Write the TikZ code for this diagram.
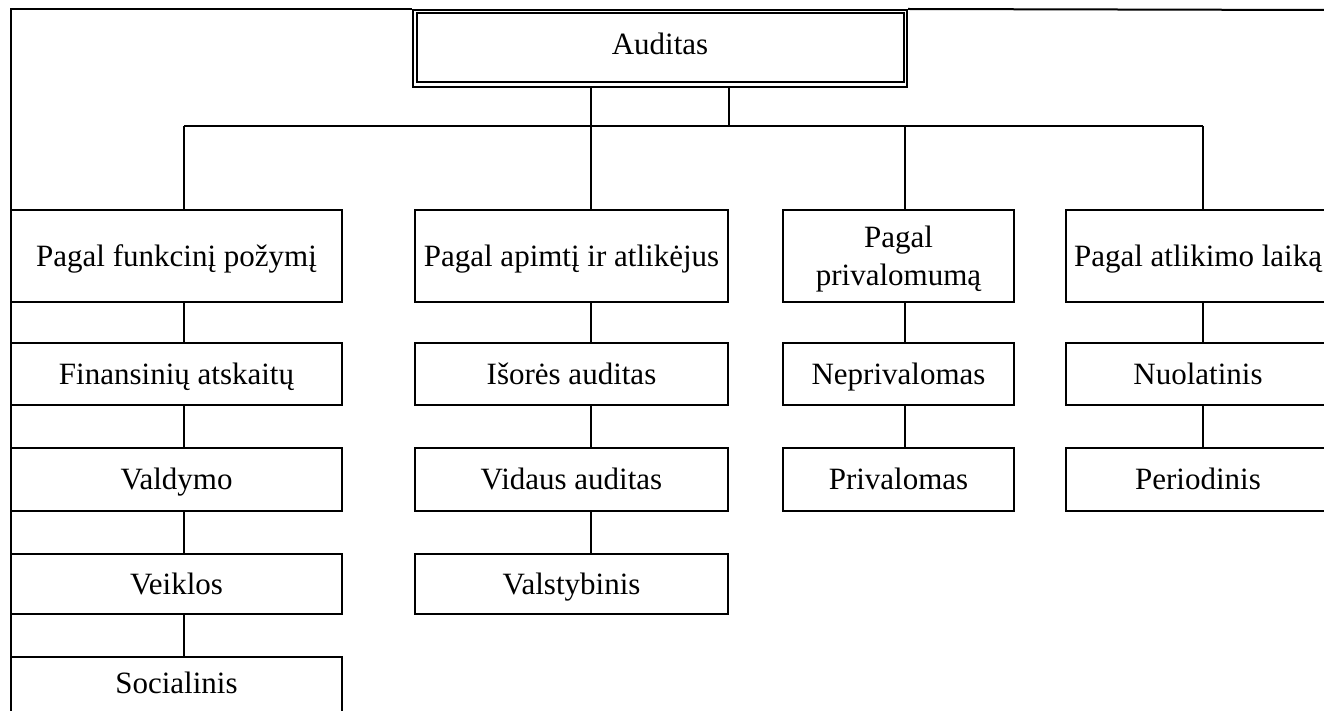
\documentclass[tikz,border=0pt]{standalone}
\usepackage{fontspec}
\setmainfont{Liberation Serif}
\begin{document}
\begin{tikzpicture}[x=1pt,y=-1pt,line width=2pt,
  cell/.style={draw,rectangle,inner sep=0pt,font=\fontsize{31}{38}\selectfont},
  onel/.style={text height=26pt,text depth=6pt},
  lbl/.style={inner sep=0pt,align=center,font=\fontsize{31}{38}\selectfont},
  link/.style={line width=2pt}]
\useasboundingbox (0,0) rectangle (1324,711);
\clip (0,0) rectangle (1324,711);
% top node
\node[cell,text height=20pt,text depth=7pt,minimum width=494pt,minimum height=77pt] (top) at (660,48.5) {Auditas};
\draw[line width=1.2pt] ([shift={(5,4)}]top.north west) rectangle ([shift={(-4,-6)}]top.south east);
% level 1
\node[cell,onel,minimum width=331pt,minimum height=92pt] (A0) at (176.5,256) {Pagal funkcinį požymį};
\node[cell,onel,minimum width=313pt,minimum height=92pt] (B0) at (571.5,256) {Pagal apimtį ir atlikėjus};
\node[cell,minimum width=231pt,minimum height=92pt] (C0) at (898.5,256) {};
\node[lbl] (C0t) at ([yshift=-3pt]C0.center) {Pagal\\privalomumą};
\node[cell,onel,minimum width=264pt,minimum height=92pt] (D0) at (1198,256) {Pagal atlikimo laiką};
% column A
\node[cell,onel,minimum width=331pt,minimum height=62pt] (A1) at (176.5,374) {Finansinių atskaitų};
\node[cell,onel,minimum width=331pt,minimum height=63pt] (A2) at (176.5,479.5) {Valdymo};
\node[cell,onel,minimum width=331pt,minimum height=60pt] (A3) at (176.5,584) {Veiklos};
\node[cell,text height=21pt,text depth=11pt,minimum width=331pt,minimum height=62pt] (A4) at (176.5,688) {Socialinis};
% column B
\node[cell,onel,minimum width=313pt,minimum height=62pt] (B1) at (571.5,374) {Išorės auditas};
\node[cell,onel,minimum width=313pt,minimum height=63pt] (B2) at (571.5,479.5) {Vidaus auditas};
\node[cell,onel,minimum width=313pt,minimum height=60pt] (B3) at (571.5,584) {Valstybinis};
% column C
\node[cell,onel,minimum width=231pt,minimum height=62pt] (C1) at (898.5,374) {Neprivalomas};
\node[cell,onel,minimum width=231pt,minimum height=63pt] (C2) at (898.5,479.5) {Privalomas};
% column D
\node[cell,onel,minimum width=264pt,minimum height=62pt] (D1) at (1198,374) {Nuolatinis};
\node[cell,onel,minimum width=264pt,minimum height=63pt] (D2) at (1198,479.5) {Periodinis};
% connector positions
\coordinate (ax) at (184,0);
\coordinate (bx) at (591,0);
\coordinate (cx) at (905,0);
\coordinate (dx) at (1203,0);
\coordinate (tx) at (729,0);
\coordinate (bus) at (0,126);
\coordinate (frameBL) at (11,711);
\coordinate (frameTR) at (1324,10);
% frame
\draw[link] (top.north west) -- (top.north west -| frameBL) -- (frameBL);
\draw[link] (top.north east) -- (frameTR);
% top connectors
\draw[link] (top.south -| bx) -- (B0.north -| bx);
\draw[link] (top.south -| tx) -- (bus -| tx);
\draw[link] (bus -| ax) -- (bus -| dx);
\draw[link] (bus -| ax) -- (A0.north -| ax);
\draw[link] (bus -| cx) -- (C0.north -| cx);
\draw[link] (bus -| dx) -- (D0.north -| dx);
% column connectors
\draw[link] (A0.south -| ax) -- (A1.north -| ax);
\draw[link] (A1.south -| ax) -- (A2.north -| ax);
\draw[link] (A2.south -| ax) -- (A3.north -| ax);
\draw[link] (A3.south -| ax) -- (A4.north -| ax);
\draw[link] (B0.south -| bx) -- (B1.north -| bx);
\draw[link] (B1.south -| bx) -- (B2.north -| bx);
\draw[link] (B2.south -| bx) -- (B3.north -| bx);
\draw[link] (C0.south -| cx) -- (C1.north -| cx);
\draw[link] (C1.south -| cx) -- (C2.north -| cx);
\draw[link] (D0.south -| dx) -- (D1.north -| dx);
\draw[link] (D1.south -| dx) -- (D2.north -| dx);
\end{tikzpicture}
\end{document}
